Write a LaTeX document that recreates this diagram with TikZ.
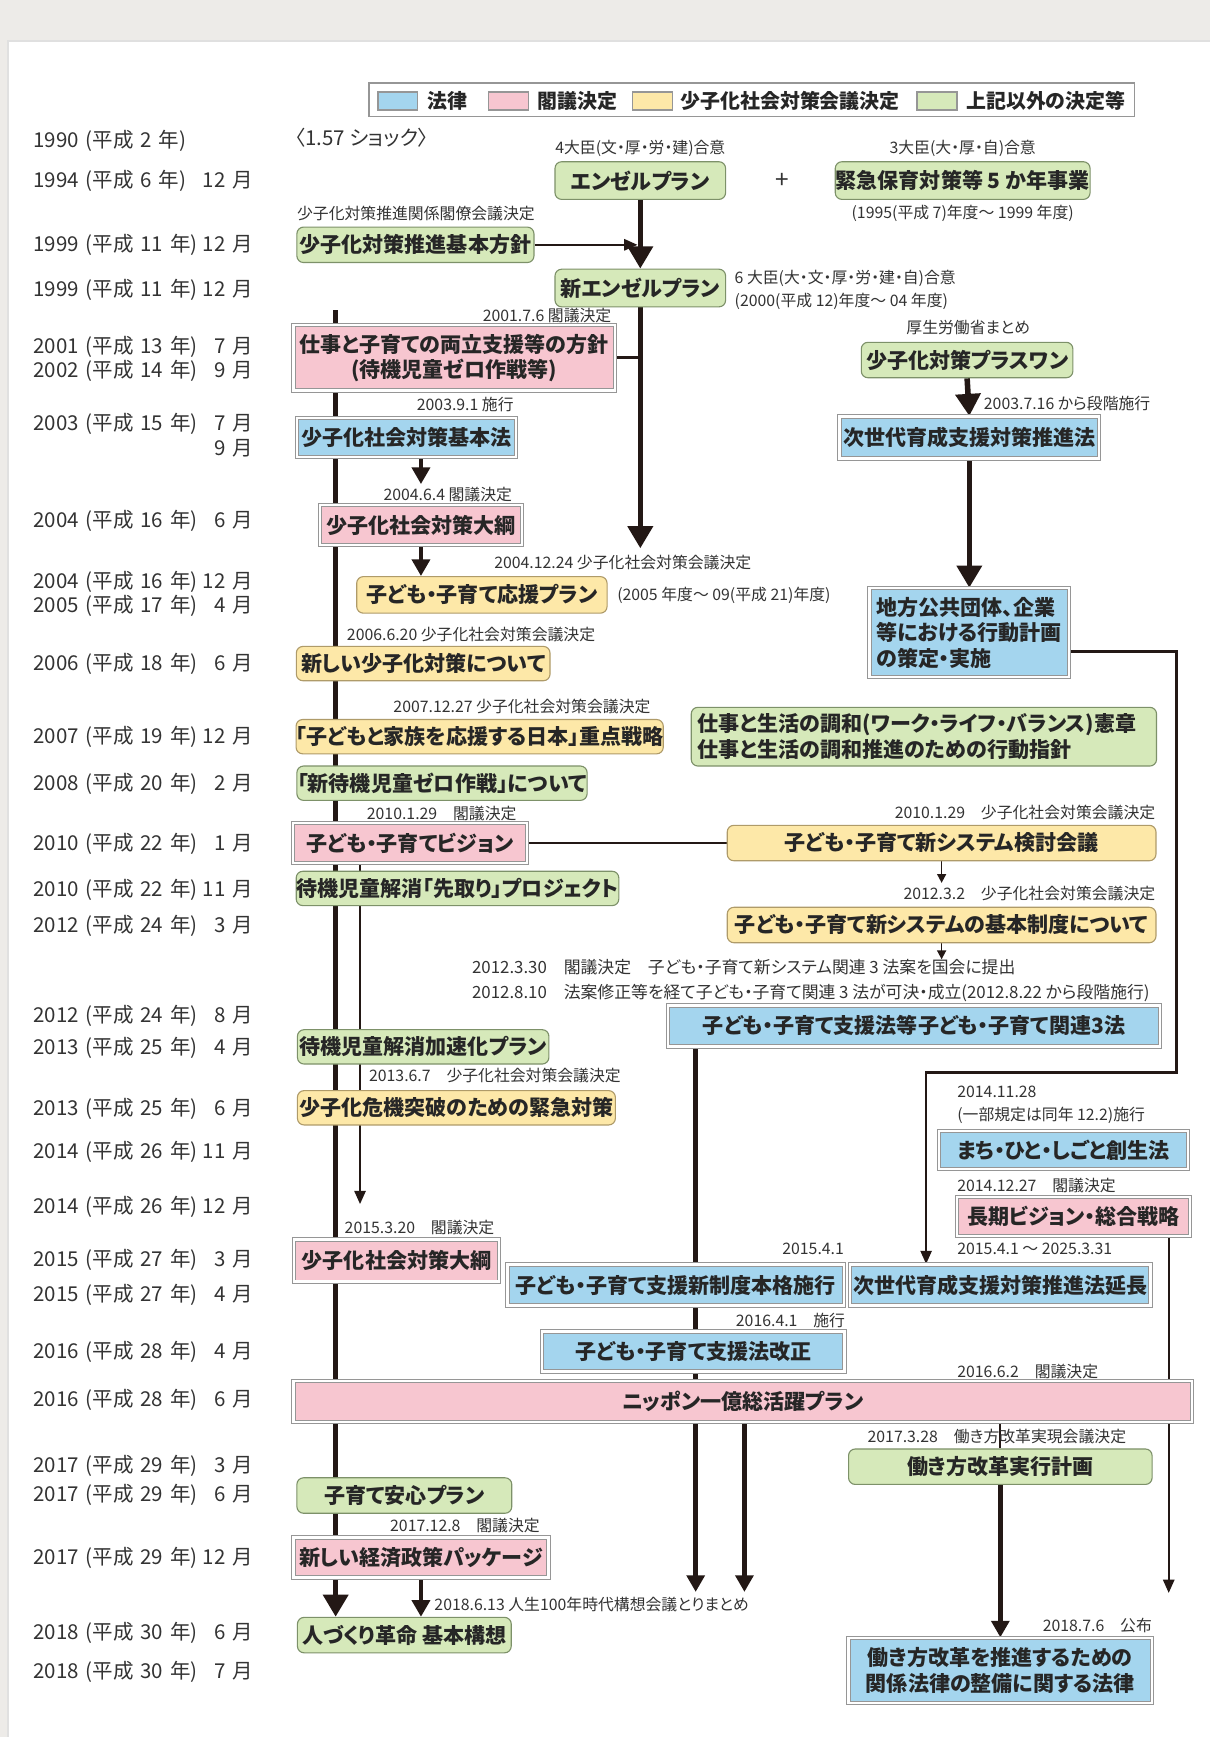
\documentclass[tikz,border=0pt]{standalone}
\usepackage{fontspec}
\setmainfont{Noto Sans CJK JP}[RawFeature=+palt]
\usetikzlibrary{arrows.meta, backgrounds}

\definecolor{pagegray}{RGB}{237,235,232}
\definecolor{lawblue}{RGB}{164,213,238}
\definecolor{cabpink}{RGB}{247,198,208}
\definecolor{councilyellow}{RGB}{253,232,168}
\definecolor{miscgreen}{RGB}{214,233,186}
\definecolor{framegray}{RGB}{150,150,150}
\definecolor{councilline}{RGB}{175,155,105}
\definecolor{miscline}{RGB}{125,145,105}
\definecolor{lineink}{RGB}{35,24,21}

\begin{document}
\begin{tikzpicture}[x=1pt, y=-1pt,
    boxbase/.style={inner sep=0pt, text=black!85, font=\fontsize{19}{23}\selectfont\bfseries},
    law/.style={boxbase, fill=lawblue, draw=framegray, line width=0.9pt, double=white, double distance=2.2pt},
    cabinet/.style={boxbase, fill=cabpink, draw=framegray, line width=0.9pt, double=white, double distance=2.2pt},
    council/.style={boxbase, fill=councilyellow, draw=councilline, line width=1pt, rounded corners=6pt},
    misc/.style={boxbase, fill=miscgreen, draw=miscline, line width=1pt, rounded corners=6pt},
    lbl/.style={inner sep=0pt, text=black!80, font=\fontsize{14.3}{17}\selectfont},
    widelbl/.style={lbl, anchor=west, font=\fontsize{15.2}{18}\selectfont},
    datelbl/.style={anchor=west, inner sep=0pt, text width=198pt, text=black!80, font=\fontsize{18.5}{21}\selectfont},
    swatch/.style={draw=framegray, line width=1.5pt, minimum width=36pt, minimum height=16pt, inner sep=0pt},
    legendlbl/.style={anchor=west, inner sep=0pt, text=black!85, font=\fontsize{18}{21}\selectfont\bfseries},
    thickarr/.style={draw=lineink, line width=5pt, -{Triangle[width=22pt,length=20pt]}},
    midarr/.style={draw=lineink, line width=4pt, -{Triangle[width=16pt,length=15pt]}},
    thinarr/.style={draw=lineink, line width=2.2pt, -{Triangle[width=10pt,length=12pt]}},
    tinyarr/.style={draw=lineink, line width=1.5pt, -{Triangle[width=8pt,length=8pt]}},
    link/.style={draw=lineink, line width=2.5pt}]

\useasboundingbox (0,0) rectangle (1092,1568);
\begin{scope}[on background layer]
  \fill[pagegray] (0,0) rectangle (1092,1568);
  \fill[white] (7,37) rectangle (1092,1568);
  \draw[black!12, line width=1.5pt] (7,1568) -- (7,37) -- (1092,37);
\end{scope}

% legend
\node[draw=framegray, line width=1.2pt, minimum width=691pt, minimum height=30pt, inner sep=0pt] (legend) at (678.5,90) {};
\node[swatch, fill=lawblue] (swlaw) at (359,91) {};
\node[legendlbl] (lglaw) at (386,91) {法律};
\node[swatch, fill=cabpink] (swcab) at (459,91) {};
\node[legendlbl] (lgcab) at (485,91) {閣議決定};
\node[swatch, fill=councilyellow] (swcouncil) at (589,91) {};
\node[legendlbl] (lgcouncil) at (614,91) {少子化社会対策会議決定};
\node[swatch, fill=miscgreen] (swmisc) at (846,91) {};
\node[legendlbl] (lgmisc) at (872,91) {上記以外の決定等};

% time column
\node[datelbl] (d1990) at (30,127) {1990 (平成 2 年)};
\node[datelbl] (d1994) at (30,163) {1994 (平成 6 年)\hfill 12 月};
\node[datelbl] (d1999a) at (30,221) {1999 (平成 11 年)\hfill 12 月};
\node[datelbl] (d1999b) at (30,262) {1999 (平成 11 年)\hfill 12 月};
\node[datelbl] (d2001) at (30,313) {2001 (平成 13 年)\hfill 7 月};
\node[datelbl] (d2002) at (30,335) {2002 (平成 14 年)\hfill 9 月};
\node[datelbl] (d2003a) at (30,383) {2003 (平成 15 年)\hfill 7 月};
\node[datelbl] (d2003b) at (30,405) {\hfill 9 月};
\node[datelbl] (d2004a) at (30,470) {2004 (平成 16 年)\hfill 6 月};
\node[datelbl] (d2004b) at (30,525) {2004 (平成 16 年)\hfill 12 月};
\node[datelbl] (d2005) at (30,547) {2005 (平成 17 年)\hfill 4 月};
\node[datelbl] (d2006) at (30,599) {2006 (平成 18 年)\hfill 6 月};
\node[datelbl] (d2007) at (30,665) {2007 (平成 19 年)\hfill 12 月};
\node[datelbl] (d2008) at (30,708) {2008 (平成 20 年)\hfill 2 月};
\node[datelbl] (d2010a) at (30,762) {2010 (平成 22 年)\hfill 1 月};
\node[datelbl] (d2010b) at (30,803) {2010 (平成 22 年)\hfill 11 月};
\node[datelbl] (d2012a) at (30,836) {2012 (平成 24 年)\hfill 3 月};
\node[datelbl] (d2012b) at (30,917) {2012 (平成 24 年)\hfill 8 月};
\node[datelbl] (d2013a) at (30,946) {2013 (平成 25 年)\hfill 4 月};
\node[datelbl] (d2013b) at (30,1001) {2013 (平成 25 年)\hfill 6 月};
\node[datelbl] (d2014a) at (30,1040) {2014 (平成 26 年)\hfill 11 月};
\node[datelbl] (d2014b) at (30,1089) {2014 (平成 26 年)\hfill 12 月};
\node[datelbl] (d2015a) at (30,1137) {2015 (平成 27 年)\hfill 3 月};
\node[datelbl] (d2015b) at (30,1169) {2015 (平成 27 年)\hfill 4 月};
\node[datelbl] (d2016a) at (30,1220) {2016 (平成 28 年)\hfill 4 月};
\node[datelbl] (d2016b) at (30,1264) {2016 (平成 28 年)\hfill 6 月};
\node[datelbl] (d2017a) at (30,1323) {2017 (平成 29 年)\hfill 3 月};
\node[datelbl] (d2017b) at (30,1349) {2017 (平成 29 年)\hfill 6 月};
\node[datelbl] (d2017c) at (30,1406) {2017 (平成 29 年)\hfill 12 月};
\node[datelbl] (d2018a) at (30,1474) {2018 (平成 30 年)\hfill 6 月};
\node[datelbl] (d2018b) at (30,1509) {2018 (平成 30 年)\hfill 7 月};

% plans and laws
\node[datelbl, text width=] (shock) at (266,124) {〈1.57 ショック〉};
\node[misc, minimum width=154pt, minimum height=34pt] (angel) at (578,163) {エンゼルプラン};
\node[lbl] (angelnote) at (578,134) {4大臣(文・厚・労・建)合意};
\node[font=\fontsize{22}{22}\selectfont, text=black!80] (plus) at (706,163) {+};
\node[misc, minimum width=230pt, minimum height=34pt] (kinkyu) at (869,163) {緊急保育対策等 5 か年事業};
\node[lbl] (kinkyunote) at (869,134) {3大臣(大・厚・自)合意};
\node[lbl] (kinkyuterm) at (869,193) {(1995(平成 7)年度～ 1999 年度)};
\node[misc, minimum width=214pt, minimum height=32pt] (hoshin) at (375,221) {少子化対策推進基本方針};
\node[lbl, anchor=west] (hoshinnote) at (268,193) {少子化対策推進関係閣僚会議決定};
\node[misc, minimum width=154pt, minimum height=34pt] (newangel) at (578,260) {新エンゼルプラン};
\node[lbl, anchor=west] (newangelnote) at (663,251) {6 大臣(大・文・厚・労・建・自)合意};
\node[lbl, anchor=west] (newangelterm) at (663,272) {(2000(平成 12)年度～ 04 年度)};
\node[cabinet, minimum width=290pt, minimum height=59pt, align=center] (ryoritsu) at (410,323) {仕事と子育ての両立支援等の方針\\(待機児童ゼロ作戦等)};
\node[lbl, anchor=east] (ryoritsunote) at (552,285) {2001.7.6 閣議決定};
\node[misc, minimum width=191pt, minimum height=32pt] (plusone) at (873,325) {少子化対策プラスワン};
\node[lbl] (plusonenote) at (874,296) {厚生労働省まとめ};
\node[law, minimum width=198pt, minimum height=35pt] (kihonho) at (367,395) {少子化社会対策基本法};
\node[lbl] (kihonhonote) at (420,365) {2003.9.1 施行};
\node[law, minimum width=234pt, minimum height=38pt] (jisedai) at (875,395) {次世代育成支援対策推進法};
\node[lbl, anchor=west] (jisedainote) at (888,364) {2003.7.16 から段階施行};
\node[cabinet, minimum width=182pt, minimum height=36pt] (taiko04) at (380,474) {少子化社会対策大綱};
\node[lbl, anchor=west] (taiko04note) at (346,446) {2004.6.4 閣議決定};
\node[council, minimum width=226pt, minimum height=33pt] (ouen) at (435,537) {子ども・子育て応援プラン};
\node[lbl, anchor=west] (ouennote) at (446,508) {2004.12.24 少子化社会対策会議決定};
\node[lbl, anchor=west] (ouenterm) at (557,537) {(2005 年度～ 09(平成 21)年度)};
\node[law, minimum width=180pt, minimum height=80pt, text width=168pt, align=left] (chiho) at (875,571) {地方公共団体、企業\\等における行動計画\\の策定・実施};
\node[council, minimum width=229pt, minimum height=31pt] (atarashii) at (382,599) {新しい少子化対策について};
\node[lbl, anchor=west] (atarashiinote) at (313,573) {2006.6.20 少子化社会対策会議決定};
\node[council, minimum width=330pt, minimum height=31pt] (juten) at (433,665) {「子どもと家族を応援する日本」重点戦略};
\node[lbl, anchor=west] (jutennote) at (355,638) {2007.12.27 少子化社会対策会議決定};
\node[misc, minimum width=420pt, minimum height=53pt, text width=408pt, align=left] (wlb) at (834,665) {仕事と生活の調和(ワーク・ライフ・バランス)憲章\\仕事と生活の調和推進のための行動指針};
\node[misc, minimum width=262pt, minimum height=31pt] (zero08) at (399,707) {「新待機児童ゼロ作戦」について};
\node[cabinet, minimum width=211pt, minimum height=36pt] (vision) at (370,761) {子ども・子育てビジョン};
\node[lbl, anchor=west] (visionnote) at (331,734) {2010.1.29　閣議決定};
\node[council, minimum width=387pt, minimum height=32pt] (kentou) at (850,761) {子ども・子育て新システム検討会議};
\node[lbl, anchor=east] (kentounote) at (1043,733) {2010.1.29　少子化社会対策会議決定};
\node[misc, minimum width=290pt, minimum height=31pt] (sakidori) at (413,802) {待機児童解消「先取り」プロジェクト};
\node[council, minimum width=387pt, minimum height=32pt] (seido) at (850,835) {子ども・子育て新システムの基本制度について};
\node[lbl, anchor=east] (seidonote) at (1043,807) {2012.3.2　少子化社会対策会議決定};
\node[widelbl] (houannote) at (426,873) {2012.3.30　閣議決定　子ども・子育て新システム関連 3 法案を国会に提出};
\node[widelbl] (seiritsunote) at (426,896) {2012.8.10　法案修正等を経て子ども・子育て関連 3 法が可決・成立(2012.8.22 から段階施行)};
\node[law, minimum width=444pt, minimum height=37pt] (kanren3) at (825,926) {子ども・子育て支援法等子ども・子育て関連3法};
\node[misc, minimum width=227pt, minimum height=31pt] (kasoku) at (382,945) {待機児童解消加速化プラン};
\node[council, minimum width=287pt, minimum height=31pt] (toppa) at (412,1000) {少子化危機突破のための緊急対策};
\node[lbl, anchor=west] (toppanote) at (333,971) {2013.6.7　少子化社会対策会議決定};
\node[law, minimum width=225pt, minimum height=34pt] (machi) at (960,1038) {まち・ひと・しごと創生法};
\node[lbl, anchor=west] (machinote) at (864,986) {2014.11.28};
\node[lbl, anchor=west] (machinote2) at (864,1007) {(一部規定は同年 12.2)施行};
\node[cabinet, minimum width=210pt, minimum height=35pt] (choki) at (969,1098) {長期ビジョン・総合戦略};
\node[lbl, anchor=west] (chokinote) at (864,1070) {2014.12.27　閣議決定};
\node[cabinet, minimum width=185pt, minimum height=38pt] (taiko15) at (358,1138) {少子化社会対策大綱};
\node[lbl, anchor=west] (taiko15note) at (311,1108) {2015.3.20　閣議決定};
\node[law, minimum width=304pt, minimum height=37pt] (shinseido) at (610,1160) {子ども・子育て支援新制度本格施行};
\node[lbl, anchor=east] (shinseidonote) at (762,1127) {2015.4.1};
\node[law, minimum width=271pt, minimum height=37pt] (encho) at (903,1160) {次世代育成支援対策推進法延長};
\node[lbl, anchor=west] (enchonote) at (864,1127) {2015.4.1 ～ 2025.3.31};
\node[law, minimum width=273pt, minimum height=36pt] (kaisei) at (626,1220) {子ども・子育て支援法改正};
\node[lbl, anchor=east] (kaiseinote) at (763,1192) {2016.4.1　施行};
\node[cabinet, minimum width=811pt, minimum height=37pt] (nippon) at (670.5,1265) {ニッポン一億総活躍プラン};
\node[lbl, anchor=west] (nipponnote) at (864,1238) {2016.6.2　閣議決定};
\node[misc, minimum width=274pt, minimum height=32pt] (jikko) at (903,1324) {働き方改革実行計画};
\node[lbl, anchor=west] (jikkonote) at (783,1297) {2017.3.28　働き方改革実現会議決定};
\node[misc, minimum width=194pt, minimum height=32pt] (anshin) at (365,1350) {子育て安心プラン};
\node[cabinet, minimum width=230pt, minimum height=36pt] (keizai) at (380,1406) {新しい経済政策パッケージ};
\node[lbl, anchor=west] (keizainote) at (352,1377) {2017.12.8　閣議決定};
\node[misc, minimum width=193pt, minimum height=32pt] (hito) at (365,1476) {人づくり革命 基本構想};
\node[lbl, anchor=west] (hitonote) at (392,1448) {2018.6.13 人生100年時代構想会議とりまとめ};
\node[law, minimum width=274pt, minimum height=59pt, align=center] (hatarakiho) at (903,1508) {働き方改革を推進するための\\関係法律の整備に関する法律};
\node[lbl, anchor=east] (hatarakihonote) at (1040,1467) {2018.7.6　公布};

% free ends
\coordinate (mainTop) at (303,280);
\coordinate (angelEnd) at (578,495);
\coordinate (kihonhoEnd) at (380,437);
\coordinate (kentouEnd) at (850,797);
\coordinate (seidoEnd) at (850,866);
\coordinate (visionEnd) at (325,1087);
\coordinate (loopR) at (1062,968);
\coordinate (loopL) at (836,968);
\coordinate (kanrenEnd) at (628,1437);
\coordinate (nipponEnd) at (672,1437);
\coordinate (chokiEnd) at (1055,1438);

\begin{scope}[on background layer]
  \draw[thickarr] (mainTop) -- (mainTop |- hito.north);
  \draw[thinarr, shorten >=2.5pt] (hoshin.east) -- (angel.south |- hoshin.east);
  \draw[thickarr] (angel.south) -- (newangel.north);
  \draw[thickarr] (newangel.south) -- (angelEnd);
  \draw[link] (ryoritsu.east) -- (newangel.south |- ryoritsu.east);
  \draw[midarr] (kihonhoEnd |- kihonho.south) -- (kihonhoEnd);
  \draw[midarr] (taiko04.south) -- (taiko04.south |- ouen.north);
  \draw[thickarr] (plusone.south) -- (jisedai.north);
  \draw[thickarr] (jisedai.south) -- (chiho.north);
  \draw[thinarr] ([yshift=-17pt]chiho.east) -| (loopR) -- (loopL) -- (loopL |- encho.north);
  \draw[link] (vision.east) -- (kentou.west);
  \draw[tinyarr] (kentou.south) -- (kentouEnd);
  \draw[tinyarr] (seido.south) -- (seidoEnd);
  \draw[thinarr] (visionEnd |- vision.south) -- (visionEnd);
  \draw[midarr] (kanrenEnd |- kanren3.south) -- (kanrenEnd);
  \draw[midarr] (nipponEnd |- nippon.south) -- (nipponEnd);
  \draw[link, line width=2pt] (jikko.north |- nippon.south) -- (jikko.north);
  \draw[midarr] (jikko.south) -- (hatarakiho.north);
  \draw[thinarr] (chokiEnd |- choki.south) -- (chokiEnd);
  \draw[midarr] (keizai.south) -- (keizai.south |- hito.north);
\end{scope}
\end{tikzpicture}
\end{document}
